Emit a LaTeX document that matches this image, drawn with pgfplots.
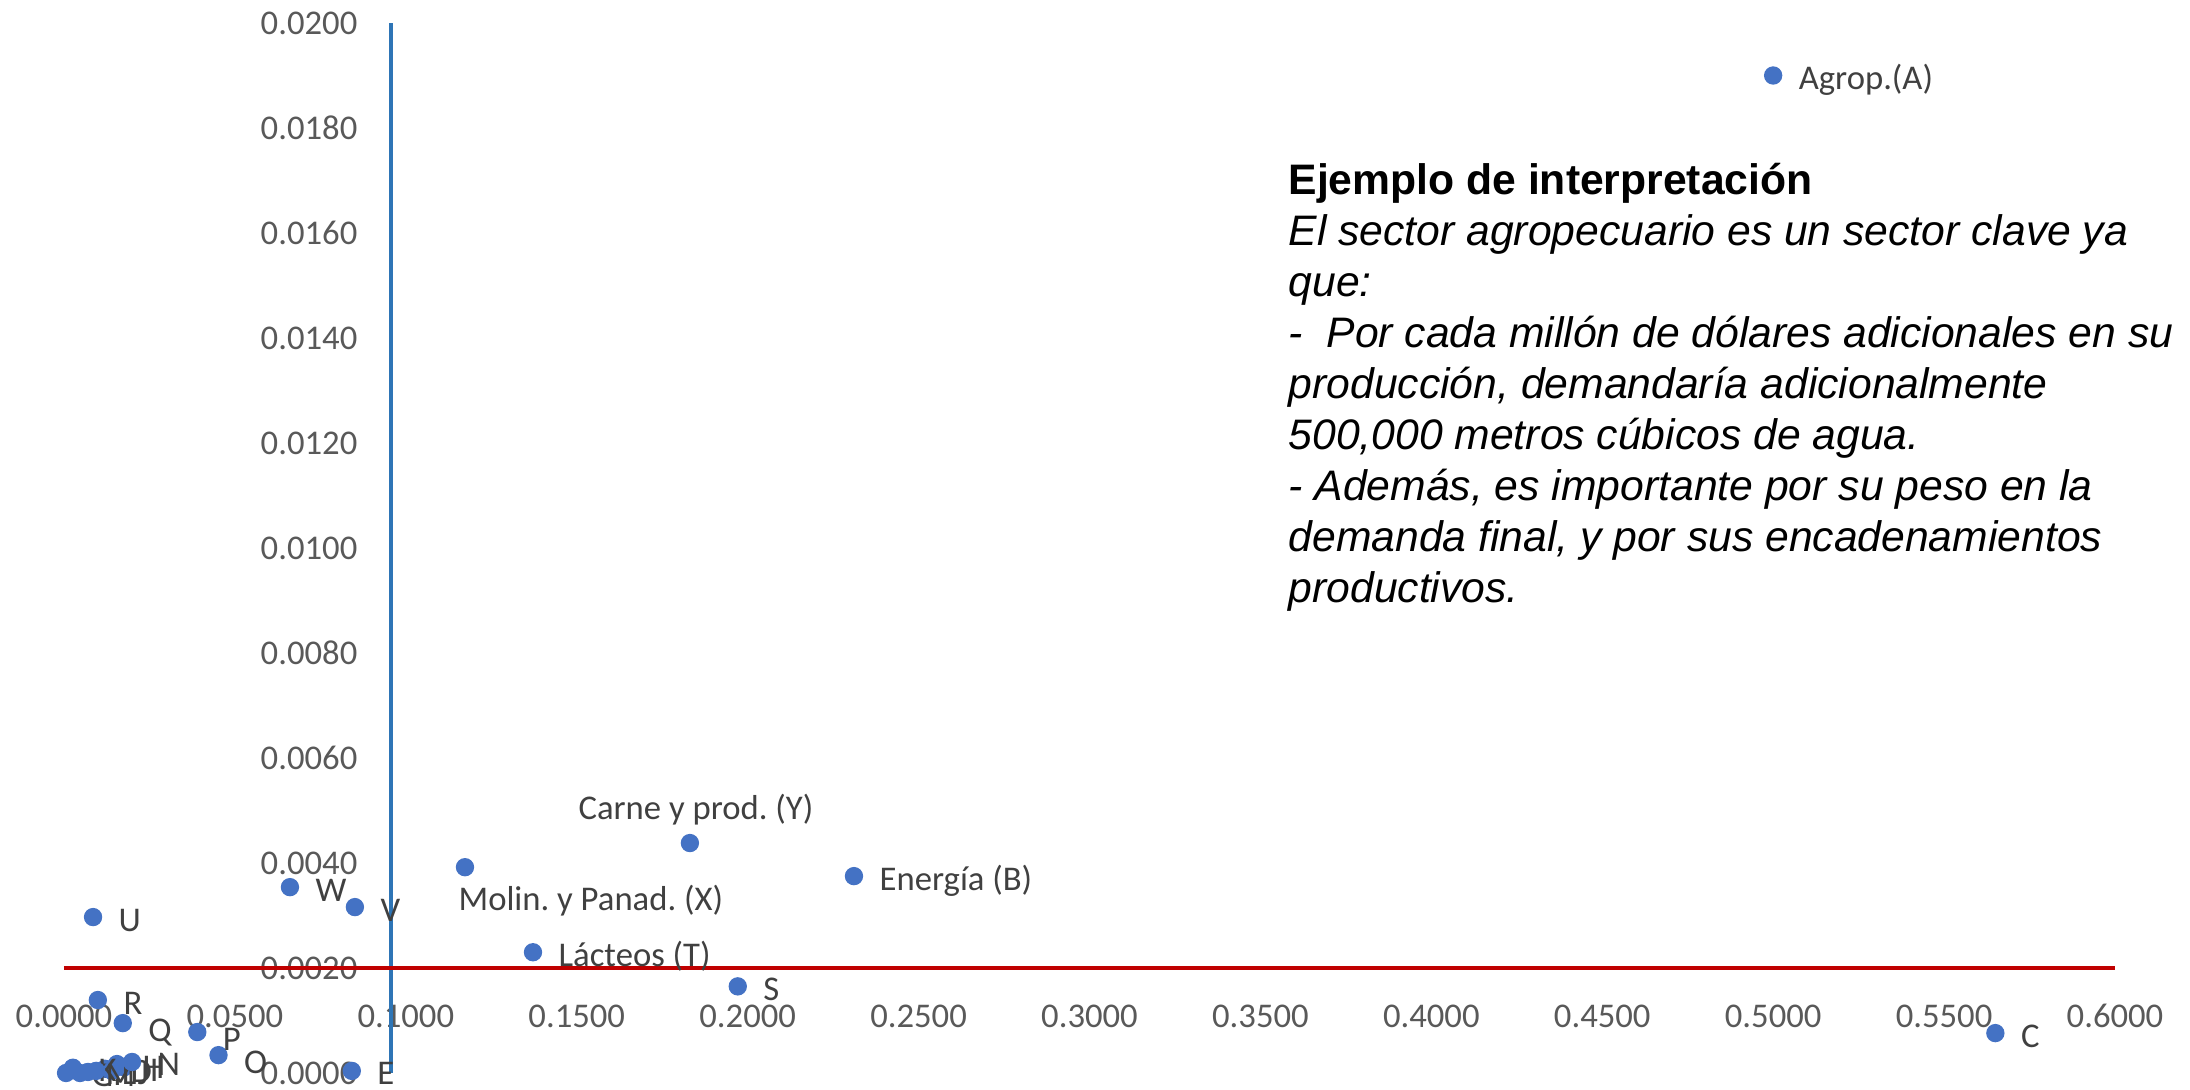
\documentclass[border=0pt]{standalone}
\usepackage{fontspec}
\setmainfont{Carlito}
\newfontfamily\arialfont{Liberation Sans}
\usepackage{pgfplots}
\pgfplotsset{compat=1.18}
\usepackage{pgfplotstable}
\definecolor{ptblue}{HTML}{4472C4}
\definecolor{lnblue}{HTML}{2E75B6}
\definecolor{lnred}{HTML}{C00000}
\definecolor{tickgray}{HTML}{595959}
\definecolor{lblgray}{HTML}{404040}

\pgfplotstableread{
x y lbl dx dy
0.5000 0.01900 Agrop.(A) 7.5 -4.2
0.2311 0.00375 {Energía (B)} 7.5 -4.2
0.5650 0.00076 C 7.5 -4.2
0.0120 0.00008 D 7.5 -4.2
0.0842 0.00004 E 7.5 -4.2
0.0070 0.00002 F 7.5 -4.2
0.0006 0.00000 G 7.5 -4.2
0.0155 0.00017 H 7.5 -4.2
0.0176 0.00011 I 7.5 -4.2
0.0140 0.00004 J 7.5 -4.2
0.0026 0.00010 K 7.5 -4.2
0.0094 0.00004 L 7.5 -4.2
0.0047 0.00000 M 7.5 -4.2
0.0199 0.00021 N 7.5 -4.2
0.0452 0.00034 O 7.5 -5.4
0.0390 0.00078 P 7.5 -5.4
0.0172 0.00095 Q 7.5 -5.4
0.0099 0.00139 R 7.5 -4.2
0.1971 0.00165 S 7.5 -4.2
0.1372 0.00230 {Lácteos (T)} 7.5 -4.2
0.0085 0.00297 U 7.5 -4.2
0.0851 0.00316 V 7.5 -4.2
0.0661 0.00354 W 7.5 -4.2
0.1173 0.00392 {Molin. y Panad. (X)} -2.1 -12.9
0.1831 0.00438 {Carne y prod. (Y)} -33.6 7.2
}\sectors

\begin{document}
\frenchspacing
\begin{tikzpicture}
\path[use as bounding box] (0,0) rectangle (657pt,327pt);
\begin{axis}[
  at={(19.2pt,5.1pt)}, anchor=south west,
  width=615.3pt, height=315pt, scale only axis,
  xmin=0, xmax=0.6, ymin=0, ymax=0.02,
  axis line style={draw=none},
  major tick length=0pt,
  tick style={draw=none},
  xtick={0,0.05,0.1,0.15,0.2,0.25,0.3,0.35,0.4,0.45,0.5,0.55,0.6},
  ytick={0,0.002,0.004,0.006,0.008,0.01,0.012,0.014,0.016,0.018,0.02},
  scaled x ticks=false, scaled y ticks=false,
  /pgf/number format/fixed,
  /pgf/number format/fixed zerofill,
  /pgf/number format/precision=4,
  /pgf/number format/assume math mode=true,
  ticklabel style={font=\fontsize{10.4}{12}\selectfont, text=tickgray},
  xticklabel style={anchor=center, yshift=17.1pt},
  yticklabel style={anchor=east, inner sep=0pt, xshift=88.2pt},
  clip=false,
]
\addplot[lnblue, line width=1.2pt] coordinates {(0.0957,0) (0.0957,0.02)};
\addplot[lnred, line width=1.2pt] coordinates {(0,0.002) (0.6,0.002)};
\addplot[
  only marks, mark=*, mark size=2.55pt,
  mark options={draw=ptblue, fill=ptblue},
  point meta=explicit symbolic,
  visualization depends on={\thisrow{dx}\as\dx},
  visualization depends on={\thisrow{dy}\as\dy},
  nodes near coords,
  nodes near coords style={anchor=base west, inner sep=0pt,
    xshift=\dx pt, yshift=\dy pt,
    font=\fontsize{10.4}{12}\selectfont, text=lblgray},
] table[x=x, y=y, meta=lbl] {\sectors};
\end{axis}
\node[anchor=base west, inner sep=0pt, align=left,
  font=\arialfont\fontsize{12.8}{15.3}\selectfont]
  at (386.4pt,146.2pt)
  {\textbf{Ejemplo de interpretación}\\
   \textit{El sector agropecuario es un sector clave ya}\\
   \textit{que:}\\
   \textit{-~ Por cada millón de dólares adicionales en su}\\
   \textit{producción, demandaría adicionalmente}\\
   \textit{500,000 metros cúbicos de agua.}\\
   \textit{- Además, es importante por su peso en la}\\
   \textit{demanda final, y por sus encadenamientos}\\
   \textit{productivos.}};
\end{tikzpicture}
\end{document}
